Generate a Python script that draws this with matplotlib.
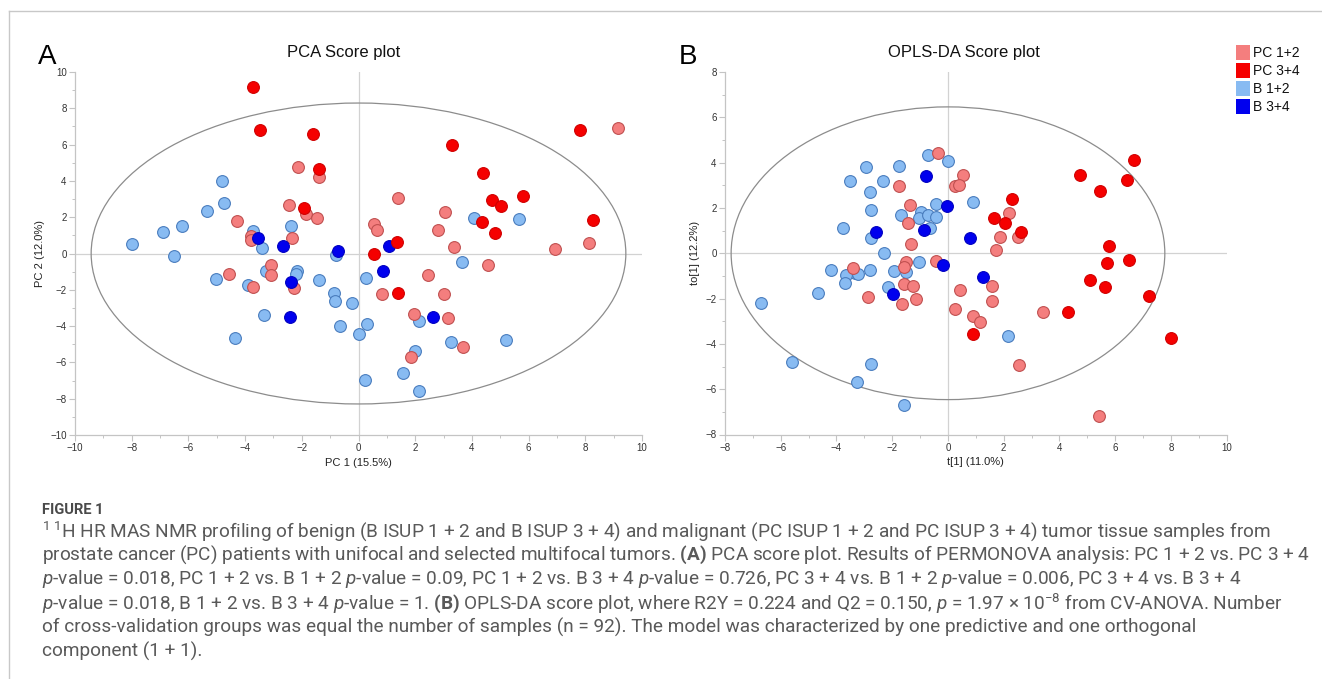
import matplotlib
matplotlib.use("Agg")
import matplotlib.pyplot as plt
from matplotlib.patches import Ellipse, Rectangle
from matplotlib.lines import Line2D
from matplotlib.ticker import MultipleLocator

# ---------------- data: PCA score plot (panel A) ----------------
pca_pc12_x = [-2.15, -1.38, -2.46, -1.85, -1.45, -4.27, -3.80, -3.80, -2.33, 9.16, 1.39, 3.04, 0.55, 0.65,
              2.82, 3.36, 6.92, 8.13, 4.58, 2.45, 0.82, 3.02, 1.96, 3.16, 3.69, 1.85, -3.09, -3.09, -4.56,
              -3.72, -2.26]
pca_pc12_y = [4.74, 4.20, 2.65, 2.20, 1.98, 1.78, 0.95, 0.73, 0.83, 6.94, 3.06, 2.31, 1.63, 1.30,
              1.31, 0.37, 0.26, 0.57, -0.62, -1.19, -2.24, -2.24, -3.34, -3.54, -5.16, -5.72, -0.62, -1.19, -1.14,
              -1.83, -1.89]
pca_pc34_x = [-3.73, -3.49, -1.62, -1.41, -1.92, 7.82, 3.31, 4.40, 4.71, 5.04, 5.81, 4.34, 8.26, 4.80,
              1.35, 0.53, 1.39]
pca_pc34_y = [9.20, 6.83, 6.61, 4.63, 2.48, 6.83, 6.00, 4.46, 2.93, 2.63, 3.17, 1.76, 1.83, 1.15,
              0.63, 0.00, -2.20]
pca_b12_x = [-4.81, -4.73, -5.36, -6.24, -6.91, -7.98, -3.73, -2.38, -3.39, -6.51, -0.79, 4.09, 5.65, 3.65,
             0.26, -0.88, -0.82, -0.22, 2.13, -0.67, 0.29, 0.00, 3.27, 5.21, 2.01, 1.56, 0.22, 2.13, -3.28,
             -2.18, -2.21, -5.02, -3.91, -1.38, -3.35, -4.35]
pca_b12_y = [3.98, 2.78, 2.35, 1.52, 1.20, 0.54, 1.24, 1.52, 0.31, -0.15, -0.06, 1.96, 1.89, -0.46,
             -1.36, -2.15, -2.61, -2.72, -3.71, -4.02, -3.91, -4.44, -4.90, -4.75, -5.38, -6.59, -6.95, -7.58, -0.97,
             -0.95, -1.14, -1.41, -1.72, -1.47, -3.39, -4.64]
pca_b34_x = [-3.55, -2.65, -0.71, 1.09, 0.86, 2.64, -2.39, -2.42]
pca_b34_y = [0.88, 0.39, 0.13, 0.41, -0.95, -3.50, -1.56, -3.50]

# ---------------- data: OPLS-DA score plot (panel B) ----------------
opls_pc12_x = [-0.36, -1.75, 0.55, 0.24, 0.41, -1.38, -1.45, -1.33, -0.42, -1.50, -1.56, -3.41, -2.87, -1.58,
               -1.27, -1.65, -1.14, 0.43, 0.25, 0.88, 1.15, 1.57, 1.57, 2.19, 1.88, 2.51, 1.74, 3.41, 2.56, 5.43]
opls_pc12_y = [4.41, 2.98, 3.45, 2.98, 3.01, 2.12, 1.35, 0.43, -0.32, -0.40, -0.59, -0.65, -1.91, -1.35,
               -1.45, -2.23, -2.04, -1.62, -2.45, -2.75, -3.04, -1.45, -2.11, 1.76, 0.70, 0.70, 0.13, -2.58, -4.92,
               -7.18]
opls_pc34_x = [6.69, 4.75, 6.42, 5.47, 2.30, 1.64, 2.05, 2.63, 5.78, 5.72, 6.49, 5.08, 5.65, 7.21, 4.30, 8.01, 0.90]
opls_pc34_y = [4.10, 3.44, 3.24, 2.74, 2.40, 1.54, 1.33, 0.92, 0.34, -0.43, -0.29, -1.20, -1.47, -1.88, -2.61,
               -3.76, -3.55]
opls_b12_x = [-0.71, 0.01, -2.94, -1.75, -3.51, -2.34, -2.81, 0.89, -0.44, -2.75, -1.69, -0.97, -1.05, -0.72,
              -0.44, -3.76, -2.75, -0.66, -2.30, -1.04, -1.52, -1.92, -4.20, -2.81, -3.35, -3.23, -3.66, -3.71,
              -4.65, -6.71, -2.16, -5.60, -2.76, -3.26, -1.58, 2.17]
opls_b12_y = [4.33, 4.09, 3.82, 3.87, 3.19, 3.20, 2.70, 2.27, 2.19, 1.90, 1.70, 1.81, 1.54, 1.67,
              1.61, 1.10, 0.67, 1.10, 0.00, -0.37, -0.81, -0.79, -0.72, -0.73, -0.88, -0.91, -0.98, -1.32,
              -1.75, -2.20, -1.50, -4.80, -4.89, -5.70, -6.68, -3.67]
opls_b34_x = [-0.79, -0.05, -2.60, -0.86, 0.78, -0.18, -1.97, 1.25]
opls_b34_y = [3.41, 2.10, 0.95, 1.02, 0.67, -0.53, -1.79, -1.03]

group_labels = ["PC 1+2", "PC 3+4", "B 1+2", "B 3+4"]

# ---------------- styles ----------------
FACE = {"PC 1+2": "#F47E7E", "PC 3+4": "#F50000", "B 1+2": "#88BBF2", "B 3+4": "#0000EE"}
EDGE = {"PC 1+2": "#C05050", "PC 3+4": "#D00000", "B 1+2": "#4A7DBE", "B 3+4": "#0000C0"}
DRAW_ORDER = ["B 1+2", "PC 1+2", "B 3+4", "PC 3+4"]

W, H = 1322, 679
fig = plt.figure(figsize=(W / 100, H / 100), dpi=100)
fig.patch.set_facecolor("white")

CHART_FONT = ["Liberation Sans", "DejaVu Sans"]
SPINE_C = "#c4c4c4"
TICK_C = "#333333"


def ax_rect(l, t, r, b):
    return [l / W, 1 - b / H, (r - l) / W, (b - t) / H]


def style_axes(ax, xlim, ylim):
    ax.set_xlim(*xlim)
    ax.set_ylim(*ylim)
    for s in ("top", "right"):
        ax.spines[s].set_visible(False)
    for s in ("left", "bottom"):
        ax.spines[s].set_color(SPINE_C)
        ax.spines[s].set_linewidth(0.9)
    ax.xaxis.set_major_locator(MultipleLocator(2))
    ax.yaxis.set_major_locator(MultipleLocator(2))
    ax.xaxis.set_minor_locator(MultipleLocator(1))
    ax.yaxis.set_minor_locator(MultipleLocator(1))
    ax.tick_params(which="major", length=4, width=0.8, color=SPINE_C, labelsize=7,
                   labelcolor=TICK_C, pad=2)
    ax.tick_params(which="minor", length=2.5, width=0.7, color=SPINE_C)
    for lab in ax.get_xticklabels() + ax.get_yticklabels():
        lab.set_family(CHART_FONT)
    ax.axhline(0, color="#d2d2d2", lw=0.9, zorder=0)
    ax.axvline(0, color="#d2d2d2", lw=0.9, zorder=0)


def draw_groups(ax, data):
    for g in DRAW_ORDER:
        xs, ys = data[g]
        ax.scatter(xs, ys, s=72, c=FACE[g], edgecolors=EDGE[g], linewidths=0.8,
                   zorder=3, clip_on=False)


# ---------------- Panel A ----------------
axA = fig.add_axes(ax_rect(75, 72, 642, 435))
style_axes(axA, (-10, 10), (-10, 10))
axA.add_patch(Ellipse((0, 0), 2 * 9.43, 2 * 8.29, fill=False, ec="#8c8c8c", lw=0.9, zorder=1))
draw_groups(axA, {"PC 1+2": (pca_pc12_x, pca_pc12_y), "PC 3+4": (pca_pc34_x, pca_pc34_y),
                  "B 1+2": (pca_b12_x, pca_b12_y), "B 3+4": (pca_b34_x, pca_b34_y)})
axA.set_xlabel("PC 1 (15.5%)", family=CHART_FONT, fontsize=8, color="#222222", labelpad=3)
axA.set_ylabel("PC 2 (12.0%)", family=CHART_FONT, fontsize=8, color="#222222", labelpad=4)

# ---------------- Panel B ----------------
axB = fig.add_axes(ax_rect(725, 72, 1226.7, 434.5))
style_axes(axB, (-8, 10), (-8, 8))
axB.add_patch(Ellipse((0, 0), 2 * 7.78, 2 * 6.46, fill=False, ec="#8c8c8c", lw=0.9, zorder=1))
draw_groups(axB, {"PC 1+2": (opls_pc12_x, opls_pc12_y), "PC 3+4": (opls_pc34_x, opls_pc34_y),
                  "B 1+2": (opls_b12_x, opls_b12_y), "B 3+4": (opls_b34_x, opls_b34_y)})
axB.set_xlabel("t[1] (11.0%)", family=CHART_FONT, fontsize=8, color="#222222", labelpad=3)
axB.set_ylabel("to[1] (12.2%)", family=CHART_FONT, fontsize=8, color="#222222", labelpad=4)

# ---------------- titles & panel letters ----------------
fig.text(344 / W, 1 - 53 / H, "PCA Score plot", family=CHART_FONT, fontsize=12,
         ha="center", va="center", color="#111111")
fig.text(964 / W, 1 - 53 / H, "OPLS-DA Score plot", family=CHART_FONT, fontsize=12,
         ha="center", va="center", color="#111111")
fig.text(47 / W, 1 - 57 / H, "A", family=CHART_FONT, fontsize=20, ha="center", va="center",
         color="#000000")
fig.text(688 / W, 1 - 57 / H, "B", family=CHART_FONT, fontsize=20, ha="center", va="center",
         color="#000000")

# ---------------- legend ----------------
for i, g in enumerate(group_labels):
    yc = 52.7 + i * 18
    fig.add_artist(Rectangle((1236 / W, 1 - (yc + 7.5) / H), 14 / W, 15 / H,
                             transform=fig.transFigure, facecolor=FACE[g], edgecolor="none"))
    fig.text(1253 / W, 1 - yc / H, g, family=CHART_FONT, fontsize=10, ha="left", va="center",
             color="#111111")

# ---------------- frame lines ----------------
fig.add_artist(Line2D([9 / W, 1], [1 - 11 / H, 1 - 11 / H], transform=fig.transFigure,
                      color="#c8c8c8", lw=1))
fig.add_artist(Line2D([9 / W, 9 / W], [1 - 11 / H, 0], transform=fig.transFigure,
                      color="#c8c8c8", lw=1))

# ---------------- caption ----------------
plt.rcParams["mathtext.fontset"] = "custom"
plt.rcParams["mathtext.rm"] = "Roboto"
plt.rcParams["mathtext.it"] = "Roboto:italic"
plt.rcParams["mathtext.bf"] = "Roboto:bold"

CAP_FONT = ["Roboto", "DejaVu Sans"]
CAP_C = "#595959"
fig.text(42 / W, 1 - 510 / H, "FIGURE 1", family=CAP_FONT, fontsize=10.5, weight="bold",
         ha="left", va="center", color="#4a4a4a")
caption_lines = [
    r"$^{1\ 1}$H HR MAS NMR profiling of benign (B ISUP 1 + 2 and B ISUP 3 + 4) and malignant (PC ISUP 1 + 2 and PC ISUP 3 + 4) tumor tissue samples from",
    r"prostate cancer (PC) patients with unifocal and selected multifocal tumors. $\mathbf{(A)}$ PCA score plot. Results of PERMONOVA analysis: PC 1 + 2 vs. PC 3 + 4",
    r"$\mathit{p}$-value = 0.018, PC 1 + 2 vs. B 1 + 2 $\mathit{p}$-value = 0.09, PC 1 + 2 vs. B 3 + 4 $\mathit{p}$-value = 0.726, PC 3 + 4 vs. B 1 + 2 $\mathit{p}$-value = 0.006, PC 3 + 4 vs. B 3 + 4",
    r"$\mathit{p}$-value = 0.018, B 1 + 2 vs. B 3 + 4 $\mathit{p}$-value = 1. $\mathbf{(B)}$ OPLS-DA score plot, where R2Y = 0.224 and Q2 = 0.150, $\mathit{p}$ = 1.97 × 10$^{-8}$ from CV-ANOVA. Number",
    r"of cross-validation groups was equal the number of samples (n = 92). The model was characterized by one predictive and one orthogonal",
    r"component (1 + 1).",
]
cap_texts = []
for i, line in enumerate(caption_lines):
    cap_texts.append(fig.text(42 / W, 1 - (531 + 24 * i) / H, line, family=CAP_FONT, fontsize=12,
                              ha="left", va="center", color=CAP_C))

# fit caption font size so the second line spans the same width as in the reference
renderer = fig.canvas.get_renderer()
measured = cap_texts[1].get_window_extent(renderer).width
target = 1306 - 42
new_size = 12 * target / measured
for t in cap_texts:
    t.set_fontsize(new_size)

fig.savefig("out.png", dpi=100, facecolor="white")
